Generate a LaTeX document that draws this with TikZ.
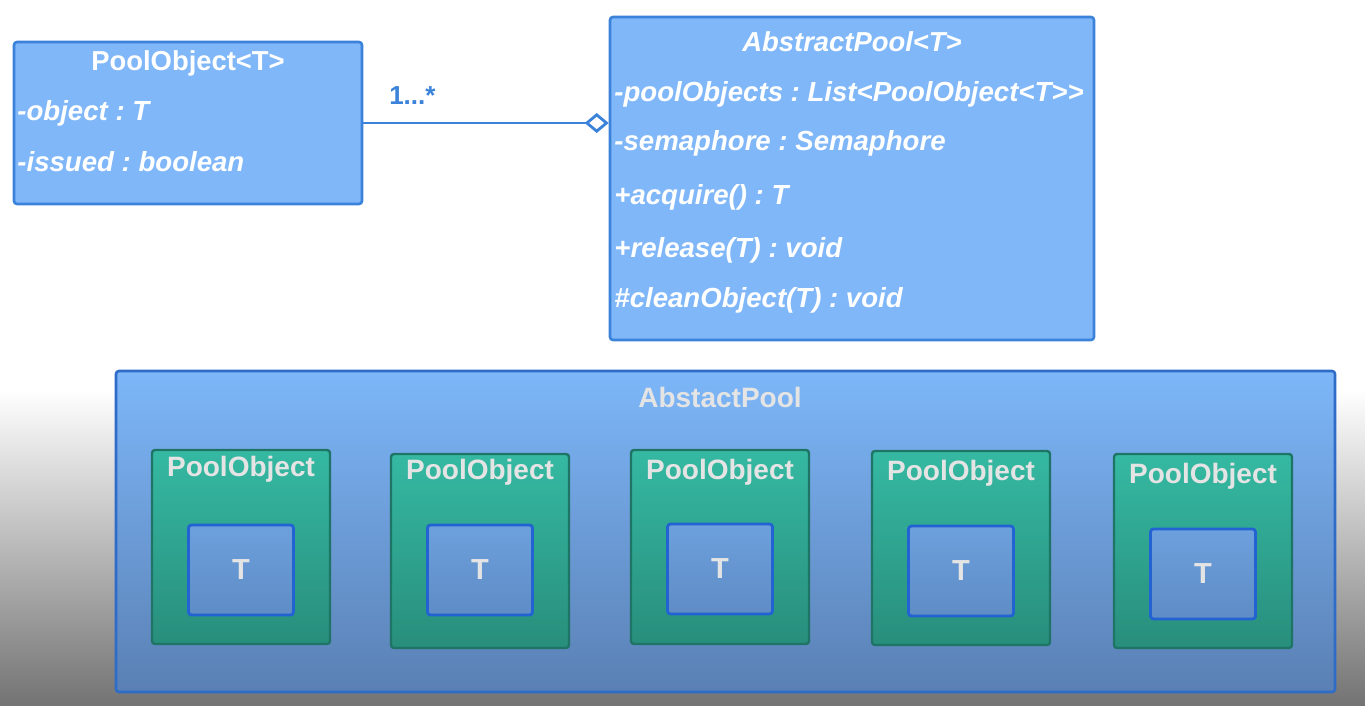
\documentclass[tikz,border=0pt]{standalone}
\usepackage{fontspec}
\setmainfont{Liberation Sans}
\usetikzlibrary{arrows.meta}
\definecolor{classfill}{HTML}{80B7F9}
\definecolor{classline}{HTML}{3A82DA}
\definecolor{pooltop}{HTML}{7DB7F9}
\definecolor{poolbot}{HTML}{5A80B4}
\definecolor{poolline}{HTML}{2F6CC8}
\definecolor{objtop}{HTML}{35B9A2}
\definecolor{objbot}{HTML}{288E7C}
\definecolor{objline}{HTML}{1E7565}
\definecolor{itemtop}{HTML}{6CA0DD}
\definecolor{itembot}{HTML}{5F8CC5}
\definecolor{itemline}{HTML}{2362D2}
\definecolor{objtext}{HTML}{E4E4E4}
\frenchspacing
\begin{document}
\begin{tikzpicture}[x=0.5pt,y=-0.5pt,
    classbox/.style={draw=classline,fill=classfill,line width=1.3pt,rounded corners=1.5pt,inner sep=0pt},
    classtitle/.style={text=white,font=\fontsize{13.7}{16}\selectfont\bfseries},
    member/.style={text=white,anchor=west,inner sep=0pt,font=\fontsize{13.8}{16}\selectfont\bfseries\itshape},
    mult/.style={text=classline,font=\fontsize{13}{16}\selectfont\bfseries},
    assoc/.style={draw=classline,line width=1.4pt,-{Diamond[open,length=12pt,width=10pt]}},
    poolbox/.style={draw=poolline,top color=pooltop,bottom color=poolbot,line width=1.3pt,rounded corners=1.5pt,
        minimum width=609.5pt,minimum height=160.5pt,inner sep=0pt},
    objbox/.style={draw=objline,top color=objtop,bottom color=objbot,line width=1.2pt,rounded corners=1.5pt,
        minimum width=89pt,minimum height=97pt,inner sep=0pt},
    itembox/.style={draw=itemline,top color=itemtop,bottom color=itembot,line width=1.4pt,rounded corners=1.5pt,
        minimum width=52.5pt,minimum height=45pt,inner sep=0pt,text=objtext,font=\fontsize{14.5}{16}\selectfont\bfseries},
    objtitle/.style={text=objtext,font=\fontsize{14}{16}\selectfont\bfseries}
]
    \useasboundingbox (0,0) rectangle (1365,706);
    \fill[white] (0,0) rectangle (1365,706);
    \shade[top color=white,middle color=black!18,bottom color=black!55] (0,390) rectangle (1365,706);

    % class diagram
    \node[classbox,minimum width=174pt,minimum height=81pt] (poolobj) at (188,123) {};
    \node[classtitle] (poolobjname) at (188,63) {PoolObject<T>};
    \node[member] (object) at (17,113) {-object : T};
    \node[member] (issued) at (17,162) {-issued : boolean};

    \node[classbox,minimum width=242pt,minimum height=161.5pt] (abspool) at (852,178.5) {};
    \node[classtitle,font=\fontsize{13.7}{16}\selectfont\bfseries\itshape] (abspoolname) at (852,42) {AbstractPool<T>};
    \node[member] (objects) at (614,94) {-poolObjects : List<PoolObject<T>{}>};
    \node[member] (semaphore) at (614,143) {-semaphore : Semaphore};
    \node[member] (acquire) at (614,197) {+acquire() : T};
    \node[member] (release) at (614,250) {+release(T) : void};
    \node[member] (clean) at (614,300) {\#cleanObject(T) : void};

    \draw[assoc] (poolobj.east) -- (poolobj.east -| abspool.west)
        node[mult,pos=0.2,above=5pt] (multi) {1...*};

    % pool contents
    \node[poolbox] (pool) at (725.5,531.5) {};
    \node[objtitle] (poolname) at (720,397) {AbstactPool};
    \foreach \i/\cx/\cy/\ty/\iy in {1/241/547/469/570,2/480/551/472/570,3/720/547/472/569,4/961/548/473/571,5/1203/551/476/574} {
        \node[objbox] (obj\i) at (\cx,\cy) {};
        \node[objtitle] (objname\i) at (\cx,\ty) {PoolObject};
        \node[itembox] (item\i) at (\cx,\iy) {T};
    }
\end{tikzpicture}
\end{document}
